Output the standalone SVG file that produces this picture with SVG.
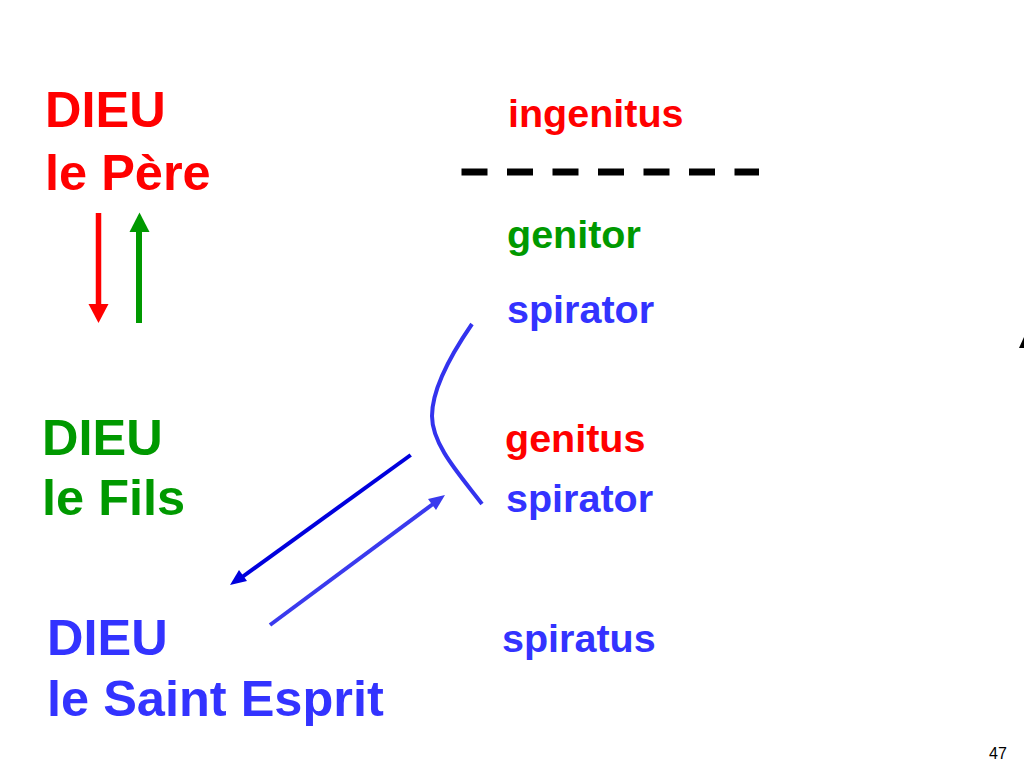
<svg xmlns="http://www.w3.org/2000/svg" width="1024" height="768" viewBox="0 0 1024 768">
<style>
.big{font-family:"Liberation Sans",Arial,sans-serif;font-weight:bold;font-size:50.5px}
.lab{font-family:"Liberation Sans",Arial,sans-serif;font-weight:bold;font-size:39.5px}
.red{fill:#FF0000}.green{fill:#009900}.blue{fill:#3333FF}
</style>
<rect width="1024" height="768" fill="#fff"/>
<g id="pere"><text class="big red" x="45" y="127">DIEU</text><text class="big red" x="45" y="190">le Père</text></g>
<g id="fils"><text class="big green" x="42" y="455">DIEU</text><text class="big green" x="42" y="515">le Fils</text></g>
<g id="esprit"><text class="big blue" x="47" y="655">DIEU</text><text class="big blue" x="47" y="716">le Saint Esprit</text></g>
<g id="labels">
<text class="lab red" x="508" y="127">ingenitus</text>
<text class="lab green" x="507" y="248">genitor</text>
<text class="lab blue" x="507" y="323">spirator</text>
<text class="lab red" x="505" y="452">genitus</text>
<text class="lab blue" x="506" y="512">spirator</text>
<text class="lab blue" x="502" y="652">spiratus</text>
</g>
<g id="connectors" fill="none">
<line x1="461.5" y1="172" x2="759" y2="172" stroke="#000" stroke-width="7" stroke-dasharray="26 19.5"/>
<line x1="98.5" y1="213" x2="98.5" y2="306" stroke="#FF0000" stroke-width="5.5"/>
<path d="M88.5,304 L108.5,304 L98.5,323 z" fill="#FF0000"/>
<line x1="139" y1="323" x2="139" y2="230" stroke="#009900" stroke-width="6"/>
<path d="M129.5,232 L149.5,232 L139.5,212.5 z" fill="#009900"/>
<path d="M472,324 C450,356 432,390 432,416 C432,445 460,475 482,504" stroke="#3333EE" stroke-width="4"/>
<line x1="410.7" y1="455" x2="238" y2="580" stroke="#0000DD" stroke-width="4"/>
<path d="M230,585 L239,570 L247,581 z" fill="#0000DD"/>
<line x1="270" y1="625" x2="437" y2="501" stroke="#3A3AEE" stroke-width="4"/>
<path d="M445,495 L436,510 L428,499 z" fill="#3A3AEE"/>
</g>
<polygon points="1019,348 1024,337 1024,348" fill="#000"/>
<text x="989" y="759" font-family="Liberation Sans,Arial,sans-serif" font-size="16" fill="#000">47</text>
</svg>
